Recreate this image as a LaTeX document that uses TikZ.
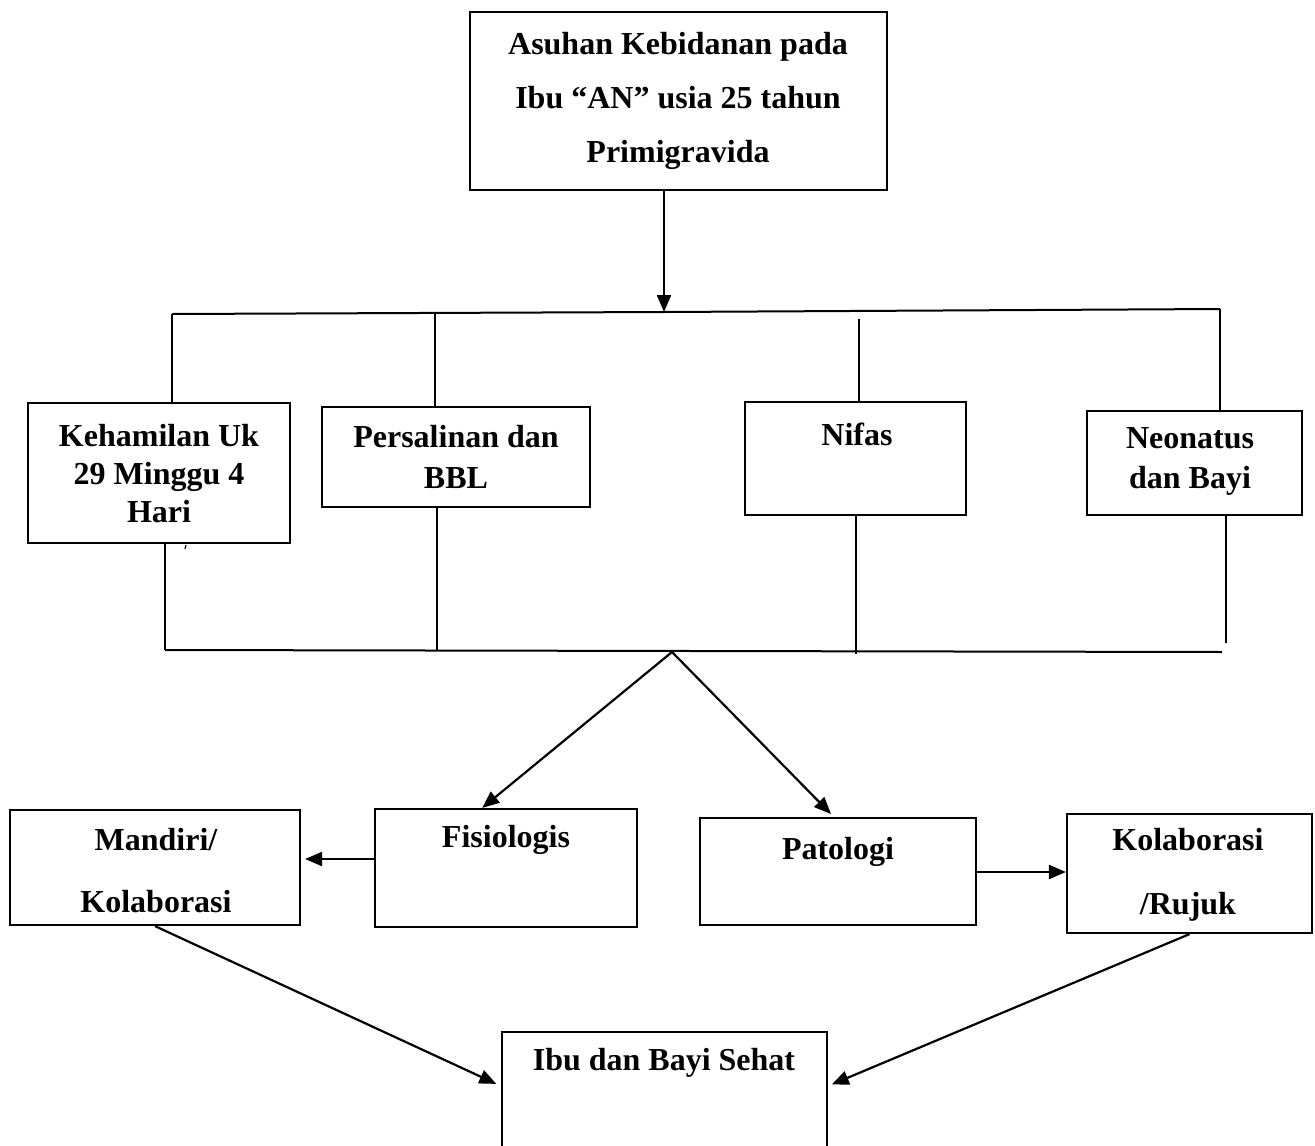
\documentclass[tikz,border=0pt]{standalone}
\usepackage{fontspec}
\setmainfont{Liberation Serif}
\usetikzlibrary{calc}
\usetikzlibrary{arrows.meta}

\tikzset{
  kotak/.style={draw, line width=2.2pt, inner sep=0pt},
  garis/.style={line width=2pt},
  panah/.style={line width=2.2pt, -{Triangle[length=17pt,width=14pt]}},
  teks/.style={font=\bfseries\fontsize{32}{38}\selectfont, align=center, inner sep=0pt}
}

\begin{document}
\begin{tikzpicture}[x=1pt,y=-1pt]
    \useasboundingbox (0,0) rectangle (1315,1146);
    %KOTAK ATAS
    \node[kotak, minimum width=417, minimum height=178] (atas) at (678.5,101) {};
    \node[teks, font=\bfseries\fontsize{32}{54}\selectfont] (tatas) at (678,101) {Asuhan Kebidanan pada\\Ibu “AN” usia 25 tahun\\Primigravida};
    %KOTAK TENGAH
    \node[kotak, minimum width=262, minimum height=140] (keh) at (159,473) {};
    \node[teks] (tkeh) at (159,474) {Kehamilan Uk\\29 Minggu 4\\Hari};
    \node[kotak, minimum width=268, minimum height=100] (per) at (456,457) {};
    \node[teks, font=\bfseries\fontsize{32}{41}\selectfont] (tper) at (456,457) {Persalinan dan\\BBL};
    \node[kotak, minimum width=221, minimum height=113] (nif) at (855.5,458.5) {};
    \node[teks] (tnif) at (857,434) {Nifas};
    \node[kotak, minimum width=215, minimum height=104] (neo) at (1194.5,463) {};
    \node[teks, font=\bfseries\fontsize{32}{40}\selectfont] (tneo) at (1190,461) {Neonatus\\dan Bayi};
    %KOTAK BAWAH
    \node[kotak, minimum width=290, minimum height=115] (man) at (155,867.5) {};
    \node[teks, font=\bfseries\fontsize{32}{62}\selectfont] (tman) at (156,871) {Mandiri/\\Kolaborasi};
    \node[kotak, minimum width=262, minimum height=118] (fis) at (506,868) {};
    \node[teks] (tfis) at (506,840) {Fisiologis};
    \node[kotak, minimum width=276, minimum height=107] (pat) at (838,871.5) {};
    \node[teks] (tpat) at (838,852) {Patologi};
    \node[kotak, minimum width=245, minimum height=119] (kol) at (1189.5,873.5) {};
    \node[teks, font=\bfseries\fontsize{32}{64}\selectfont] (tkol) at (1188,875) {Kolaborasi\\/Rujuk};
    \node[kotak, minimum width=325, minimum height=122] (ibu) at (664.5,1093) {};
    \node[teks] (tibu) at (664,1063) {Ibu dan Bayi Sehat};
    %GARIS ATAS
    \coordinate (ba) at (664,312);
    \coordinate (a1) at (172,314);
    \coordinate (a2) at (435,313);
    \coordinate (a3) at (859,319);
    \coordinate (a4) at (1220,309);
    \draw[panah] (atas.south -| ba) -- (ba);
    \draw[garis] (a1) -- (ba) -- (a4);
    \draw[garis] (a1) -- (a1 |- keh.north);
    \draw[garis] (a2) -- (a2 |- per.north);
    \draw[garis] (a3) -- (a3 |- nif.north);
    \draw[garis] (a4) -- (a4 |- neo.north);
    %GARIS BAWAH
    \coordinate (b1) at (165,650);
    \coordinate (b2) at (437,650);
    \coordinate (b3) at (856,654);
    \coordinate (b4) at (1226,643);
    \coordinate (puncak) at (672,652);
    \draw[garis] (b1) -- (1222,652);
    \draw[garis] (keh.south -| b1) -- (b1);
    \draw[garis] (per.south -| b2) -- (b2);
    \draw[garis] (nif.south -| b3) -- (b3);
    \draw[garis] (neo.south -| b4) -- (b4);
    \draw[line width=1.2pt] (186,545) -- (185,549);
    %PANAH
    \draw[panah] (puncak) -- ($(fis.north west)!0.41!(fis.north east)$);
    \draw[panah, shorten >=4pt] (puncak) -- ($(pat.north west)!0.485!(pat.north east)$);
    \draw[panah, shorten >=4pt] (fis.west |- 0,859) -- (man.east |- 0,859);
    \draw[panah] (pat.east |- 0,872) -- (kol.west |- 0,872);
    \draw[panah, shorten >=5pt] (man.south) -- (ibu.west |- 0,1086);
    \draw[panah, shorten >=4pt] (kol.south) -- (ibu.east |- 0,1086);
\end{tikzpicture}
\end{document}
